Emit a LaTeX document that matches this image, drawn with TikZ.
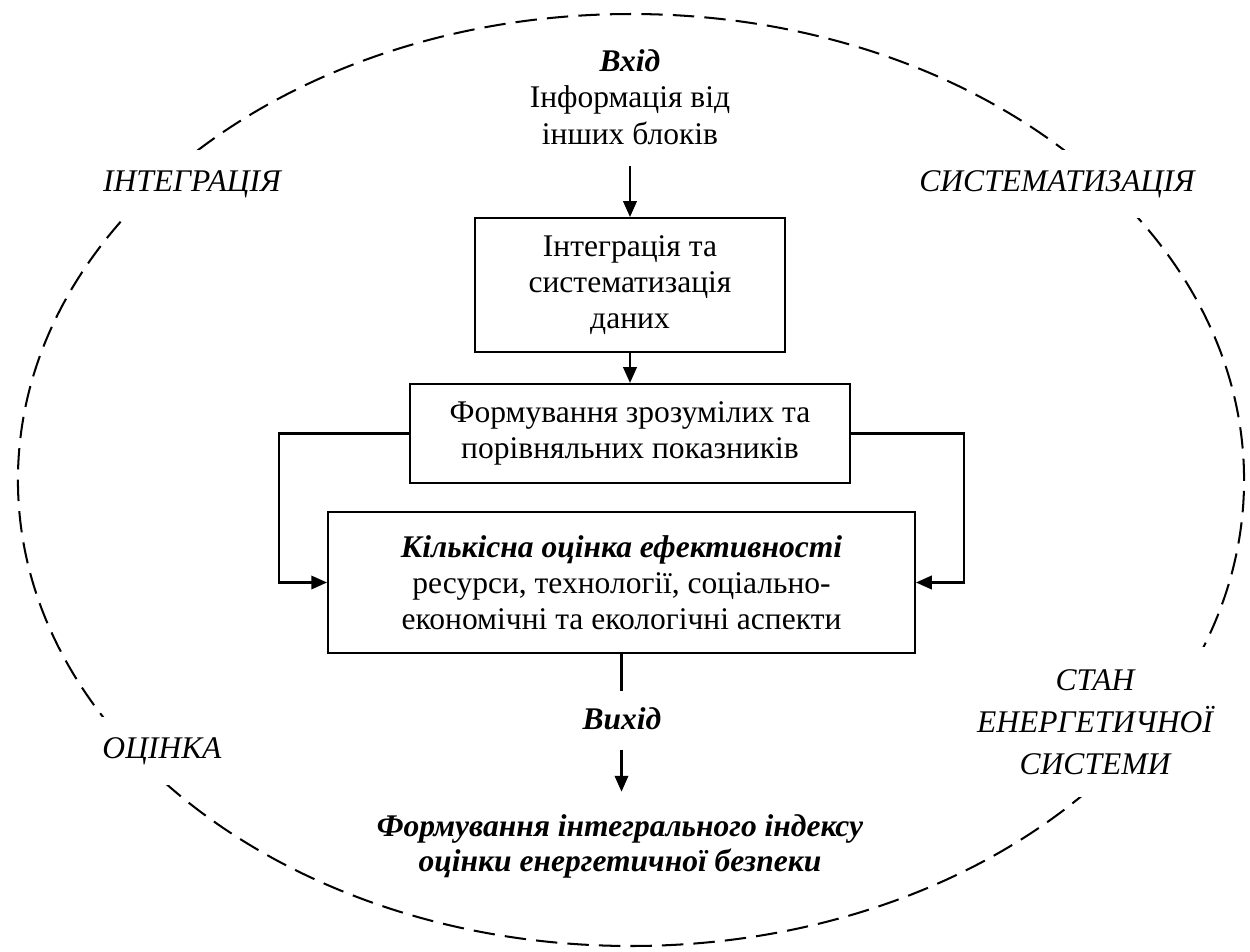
\documentclass[tikz,border=0pt]{standalone}
\usepackage{fontspec}
\setmainfont{Liberation Serif}
\usetikzlibrary{arrows.meta}

\begin{document}
\begin{tikzpicture}[x=0.444pt, y=-0.444pt,
		font=\fontsize{14}{16.1}\selectfont,
		block/.style={draw, line width=0.9pt, align=center, inner sep=0pt},
		stage/.style={fill=white, align=center, inner xsep=4pt, inner ysep=9pt,
			font=\fontsize{14}{16.1}\selectfont\itshape},
		arr/.style={line width=0.9pt, -{Triangle[length=7pt, width=6pt]}},
		link/.style={line width=0.9pt}]
		\useasboundingbox (0,0) rectangle (1250,952);
		\draw[line width=0.9pt, dash pattern=on 9.5pt off 4.5pt] (631,480) ellipse (272.2pt and 206.9pt);
		
		\node[inner sep=0pt, align=center] (input) at (630,97) {\textbf{\textit{Вхід}}\\Інформація від\\інших блоків};
		\node[block, minimum width=137.6pt, minimum height=59.5pt] (integr) at (630,285) {Інтеграція та\\систематизація\\даних};
		\node[block, minimum width=195.4pt, minimum height=44pt] (indic) at (630,433.5) {Формування зрозумілих та\\порівняльних показників};
		\node[block, minimum width=260.6pt, minimum height=62.6pt] (assess) at (621.5,582.5) {\textbf{\textit{Кількісна оцінка ефективності}}\\ресурси, технології, соціально-\\економічні та екологічні аспекти};
		\node[inner sep=0pt, font=\fontsize{14}{16.1}\selectfont\bfseries\itshape] (output) at (622,719) {Вихід};
		\node[inner sep=0pt, align=center, font=\fontsize{14}{15.6}\selectfont\bfseries\itshape] (index) at (620,846) {Формування інтегрального індексу\\оцінки енергетичної безпеки};
		
		\draw[arr, shorten <=9.3pt] (input) -- (integr);
		\draw[arr] (integr) -- (indic);
		\draw[arr] (indic.west) -- ++(-130,0) |- (assess.west);
		\draw[arr] (indic.east) -- ++(113,0) |- (assess.east);
		\draw[link, shorten >=7.5pt] (assess.south) -- (assess.south |- output.north);
		\draw[arr, shorten <=8.4pt, shorten >=9.8pt] (output.south -| assess.south) -- (index.north -| assess.south);
		
		\node[stage] (integration) at (192,184) {ІНТЕГРАЦІЯ};
		\node[stage] (system) at (1057,184) {СИСТЕМАТИЗАЦІЯ};
		\node[stage] (evaluation) at (162,751) {ОЦІНКА};
		\node[stage, inner ysep=10pt, font=\fontsize{14}{18.6}\selectfont\itshape] (state) at (1095,722) {СТАН\\ЕНЕРГЕТИЧНОЇ\\СИСТЕМИ};
	\end{tikzpicture}
\end{document}
